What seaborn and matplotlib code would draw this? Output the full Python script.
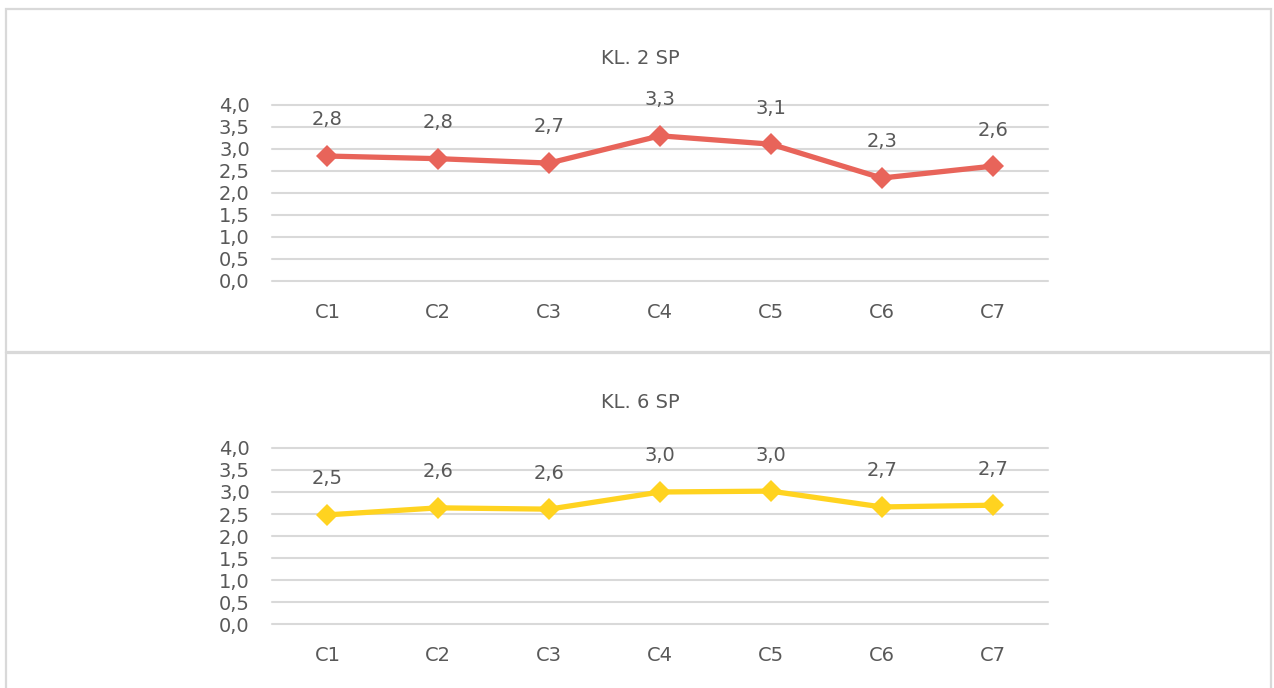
import matplotlib
matplotlib.use("Agg")
import matplotlib.pyplot as plt
import seaborn as sns
import pandas as pd
from matplotlib.patches import Rectangle
from matplotlib.ticker import FuncFormatter

categories = ["C1", "C2", "C3", "C4", "C5", "C6", "C7"]
kl2_values = [2.84, 2.78, 2.68, 3.30, 3.11, 2.34, 2.61]
kl6_values = [2.48, 2.64, 2.61, 3.00, 3.02, 2.66, 2.70]
titles = ["KL. 2 SP", "KL. 6 SP"]
colors = ["#E8645A", "#FFD320"]
yticks = [0.0, 0.5, 1.0, 1.5, 2.0, 2.5, 3.0, 3.5, 4.0]

sns.set_theme(style="white")
plt.rcParams['font.family'] = ['DejaVu Sans']
TXT = "#595959"

W, H = 1274, 688
fig = plt.figure(figsize=(W / 100, H / 100), dpi=100)

# panel borders
for (y0, y1) in [(9, 352), (353, 690)]:
    fig.add_artist(Rectangle((6 / W, 1 - y1 / H), (1271 - 6) / W, (y1 - y0) / H,
                             transform=fig.transFigure, fill=False,
                             edgecolor="#D9D9D9", linewidth=1.6, clip_on=False))

panels = [
    (kl2_values, titles[0], colors[0], 281, 58),
    (kl6_values, titles[1], colors[1], 624, 402),
]

fmt = FuncFormatter(lambda v, p: f"{v:.1f}".replace(".", ","))

for vals, title, col, ybot, ytitle in panels:
    ax = fig.add_axes([272 / W, 1 - ybot / H, 776 / W, 176 / H])
    df = pd.DataFrame({"cat": categories, "val": vals})
    sns.lineplot(data=df, x="cat", y="val", ax=ax, color=col, linewidth=3.8,
                 marker="D", markersize=11, markeredgewidth=0, sort=False,
                 zorder=3)
    ax.set_xlim(-0.5, 6.5)
    ax.set_ylim(0, 4)
    ax.set_yticks(yticks)
    ax.yaxis.set_major_formatter(fmt)
    for t in yticks:
        ax.axhline(t, color="#D9D9D9", linewidth=1.5, zorder=1, clip_on=False)
    for s in ax.spines.values():
        s.set_visible(False)
    ax.tick_params(axis="y", length=0, pad=16, labelsize=14, labelcolor=TXT)
    ax.tick_params(axis="x", length=0, pad=16, labelsize=14, labelcolor=TXT)
    ax.set_xlabel("")
    ax.set_ylabel("")
    for i, v in enumerate(vals):
        ax.annotate(f"{v:.1f}".replace(".", ","), (i, v), xytext=(0, 26),
                    textcoords="offset points", ha="center", va="center",
                    fontsize=14, color=TXT)
    fig.text(0.5025, 1 - ytitle / H, title, ha="center", va="center",
             fontsize=14, color=TXT)

fig.savefig("out.png", dpi=100)
